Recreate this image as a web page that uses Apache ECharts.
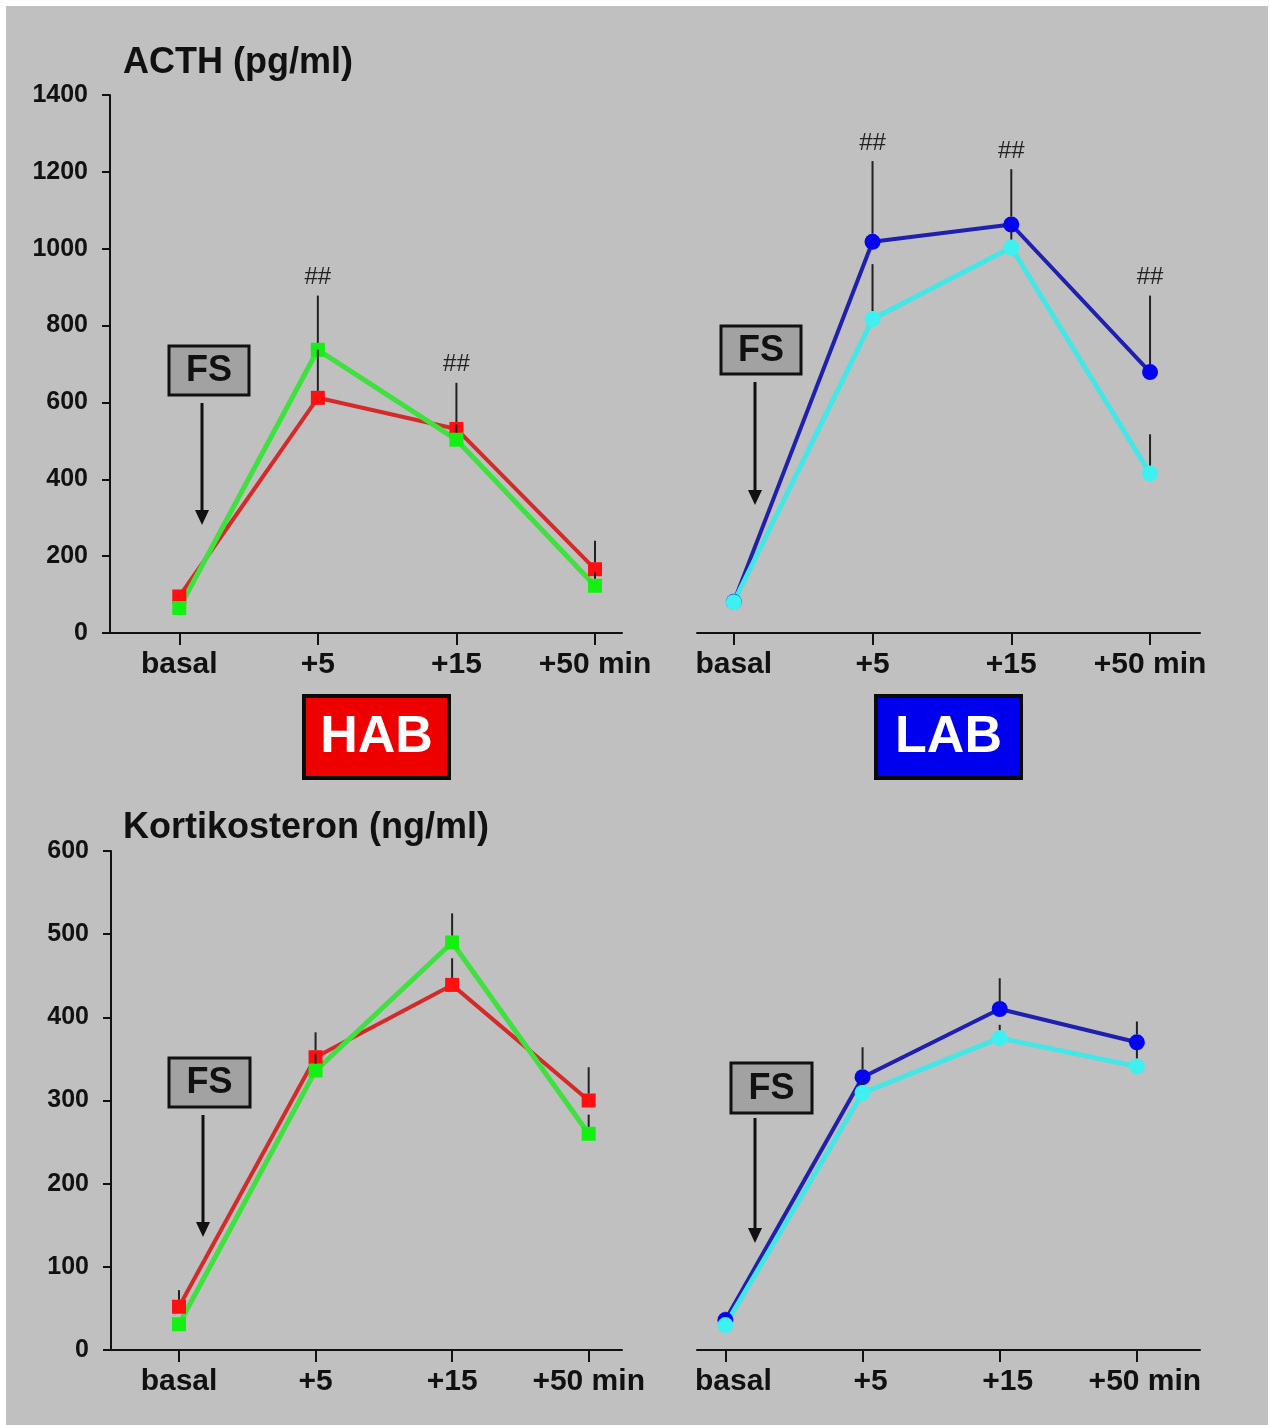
<!DOCTYPE html>
<html>
<head>
<meta charset="utf-8">
<script src="https://cdn.jsdelivr.net/npm/echarts@6/dist/echarts.min.js"></script>
<style>
  html, body { margin: 0; padding: 0; background: #ffffff; }
  #chart { width: 1270px; height: 1425px; }
</style>
</head>
<body>
<div id="chart"></div>
<script>
// Sampling times after forced swim (FS)
const timepoints = ['basal', '+5', '+15', '+50 min'];

// Y axis tick values
const acthTicks = [0, 200, 400, 600, 800, 1000, 1200, 1400];
const cortTicks = [0, 100, 200, 300, 400, 500, 600];

// ACTH (pg/ml) — HAB: red and green groups (mean, upper SEM, significance)
const acthHabRed = [95, 612, 531, 166];
const acthHabRedErr = [12, 125, 120, 74];
const acthHabRedSig = ['', '', '##', ''];
const acthHabGreen = [65, 737, 503, 123];
const acthHabGreenErr = [10, 141, 40, 35];
const acthHabGreenSig = ['', '##', '', ''];

// ACTH (pg/ml) — LAB: blue and cyan groups
const acthLabBlue = [81, 1018, 1063, 679];
const acthLabBlueErr = [8, 210, 144, 199];
const acthLabBlueSig = ['', '##', '##', '##'];
const acthLabCyan = [80, 817, 1003, 415];
const acthLabCyanErr = [8, 143, 45, 102];
const acthLabCyanSig = ['', '', '', ''];

// Kortikosteron (ng/ml) — HAB
const cortHabRed = [52, 352, 439, 300];
const cortHabRedErr = [20, 30, 32, 40];
const cortHabGreen = [31, 336, 490, 260];
const cortHabGreenErr = [8, 20, 35, 23];

// Kortikosteron (ng/ml) — LAB
const cortLabBlue = [36, 328, 410, 370];
const cortLabBlueErr = [10, 36, 37, 25];
const cortLabCyan = [30, 309, 375, 341];
const cortLabCyanErr = [5, 15, 16, 21];

const FONT = '"Liberation Sans", Arial, sans-serif';
const INK = '#111111';

const COLORS = {
  red:   { line: '#d42a2a', mark: '#ff1010', shape: 'rect',   size: 14, width: 4 },
  green: { line: '#3fe03f', mark: '#14f014', shape: 'rect',   size: 14, width: 5 },
  blue:  { line: '#2020b0', mark: '#0404f0', shape: 'circle', size: 16, width: 4 },
  cyan:  { line: '#44e6e6', mark: '#3ef0f0', shape: 'circle', size: 16, width: 5 }
};

const grids = [
  { left: 110, top: 95,  width: 512, height: 538 },
  { left: 697, top: 95,  width: 503, height: 538 },
  { left: 111, top: 851, width: 511, height: 499 },
  { left: 697, top: 851, width: 503, height: 499 }
];
const xRanges = [[-0.5, 3.195], [-0.265, 3.36], [-0.498, 3.244], [-0.207, 3.46]];

const xAxes = grids.map((g, i) => ({
  type: 'value',
  gridIndex: i,
  min: xRanges[i][0],
  max: xRanges[i][1],
  splitLine: { show: false },
  axisLine: { show: true, onZero: false, lineStyle: { color: INK, width: 2 } },
  axisTick: { show: true, length: 12, inside: false, customValues: [0, 1, 2, 3], lineStyle: { color: INK, width: 2 } },
  axisLabel: {
    customValues: [0, 1, 2, 3],
    formatter: v => timepoints[Math.round(v)],
    color: INK,
    fontFamily: FONT,
    fontWeight: 'bold',
    fontSize: 30,
    margin: 17,
    padding: i === 3 ? [0, 0, 0, 16] : 0
  }
}));

function yAxis(i, ticks, visible) {
  return {
    type: 'value',
    gridIndex: i,
    min: ticks[0],
    max: ticks[ticks.length - 1],
    interval: ticks[1] - ticks[0],
    show: visible,
    splitLine: { show: false },
    axisLine: { show: true, onZero: false, lineStyle: { color: INK, width: 2 } },
    axisTick: { show: true, length: 8, lineStyle: { color: INK, width: 2 } },
    axisLabel: {
      formatter: v => String(v),
      color: INK, fontFamily: FONT, fontWeight: 'bold', fontSize: 25, margin: 22
    }
  };
}

const yAxes = [
  yAxis(0, acthTicks, true),
  yAxis(1, acthTicks, false),
  yAxis(2, cortTicks, true),
  yAxis(3, cortTicks, false)
];

function lineSeries(panel, values, colorKey) {
  const c = COLORS[colorKey];
  return {
    type: 'line',
    xAxisIndex: panel,
    yAxisIndex: panel,
    data: values.map((v, i) => [i, v]),
    symbol: c.shape,
    symbolSize: c.size,
    showAllSymbol: true,
    lineStyle: { color: c.line, width: c.width },
    itemStyle: { color: c.mark },
    z: 2,
    animation: false
  };
}

// Upper error bars (from the marker's top edge) with optional significance marks
function errorSeries(panel, values, errs, sig, markerSize) {
  const half = markerSize / 2;
  return {
    type: 'custom',
    xAxisIndex: panel,
    yAxisIndex: panel,
    data: values.map((v, i) => [i, v, errs[i]]),
    encode: { x: 0, y: 1 },
    z: 4,
    silent: true,
    animation: false,
    renderItem: function (params, api) {
      const x = api.value(0), y = api.value(1), e = api.value(2);
      const p0 = api.coord([x, y]);
      const p1 = api.coord([x, y + e]);
      const children = [];
      const yStart = p0[1] - half;
      if (p1[1] < yStart) {
        children.push({
          type: 'line',
          shape: { x1: p0[0], y1: yStart, x2: p1[0], y2: p1[1] },
          style: { stroke: '#222222', lineWidth: 2 }
        });
      }
      const mark = sig ? sig[params.dataIndex] : '';
      if (mark) {
        children.push({
          type: 'text',
          style: {
            x: p1[0], y: p1[1] - 18, text: mark,
            font: 'normal 24px ' + FONT, fill: '#222222',
            align: 'center', verticalAlign: 'middle'
          }
        });
      }
      return { type: 'group', children: children };
    }
  };
}

const series = [
  lineSeries(0, acthHabRed, 'red'),
  lineSeries(0, acthHabGreen, 'green'),
  errorSeries(0, acthHabRed, acthHabRedErr, acthHabRedSig, COLORS.red.size),
  errorSeries(0, acthHabGreen, acthHabGreenErr, acthHabGreenSig, COLORS.green.size),

  lineSeries(1, acthLabBlue, 'blue'),
  lineSeries(1, acthLabCyan, 'cyan'),
  errorSeries(1, acthLabBlue, acthLabBlueErr, acthLabBlueSig, COLORS.blue.size),
  errorSeries(1, acthLabCyan, acthLabCyanErr, acthLabCyanSig, COLORS.cyan.size),

  lineSeries(2, cortHabRed, 'red'),
  lineSeries(2, cortHabGreen, 'green'),
  errorSeries(2, cortHabRed, cortHabRedErr, null, COLORS.red.size),
  errorSeries(2, cortHabGreen, cortHabGreenErr, null, COLORS.green.size),

  lineSeries(3, cortLabBlue, 'blue'),
  lineSeries(3, cortLabCyan, 'cyan'),
  errorSeries(3, cortLabBlue, cortLabBlueErr, null, COLORS.blue.size),
  errorSeries(3, cortLabCyan, cortLabCyanErr, null, COLORS.cyan.size)
];

// "FS" stimulus box with a downward arrow
function fsMarker(x, y, w, h, ax, ay0, ay1) {
  return [
    { type: 'rect', shape: { x: x, y: y, width: w, height: h },
      style: { fill: '#a2a2a2', stroke: INK, lineWidth: 3 }, z: 10 },
    { type: 'text', style: { x: x + w / 2, y: y + h / 2 + 1, text: 'FS', font: 'bold 36px ' + FONT,
      fill: INK, align: 'center', verticalAlign: 'middle' }, z: 11 },
    { type: 'line', shape: { x1: ax, y1: ay0, x2: ax, y2: ay1 - 12 },
      style: { stroke: INK, lineWidth: 3 }, z: 10 },
    { type: 'polygon', shape: { points: [[ax - 7, ay1 - 15], [ax + 7, ay1 - 15], [ax, ay1]] },
      style: { fill: INK }, z: 10 }
  ];
}

function groupBox(x, y, w, h, fill, text) {
  return [
    { type: 'rect', shape: { x: x, y: y, width: w, height: h },
      style: { fill: fill, stroke: '#0a0a0a', lineWidth: 4 }, z: 10 },
    { type: 'text', style: { x: x + w / 2, y: y + h / 2 + 1, text: text, font: 'bold 52px ' + FONT,
      fill: '#ffffff', align: 'center', verticalAlign: 'middle' }, z: 11 }
  ];
}

const graphics = [
  // white frame on the top, left and right edges
  { type: 'rect', shape: { x: 0, y: 0, width: 1270, height: 6 }, style: { fill: '#ffffff' }, z: 0 },
  { type: 'rect', shape: { x: 0, y: 0, width: 6, height: 1425 }, style: { fill: '#ffffff' }, z: 0 },
  { type: 'rect', shape: { x: 1268, y: 0, width: 2, height: 1425 }, style: { fill: '#ffffff' }, z: 0 },

  { type: 'text', style: { x: 123, y: 63, text: 'ACTH (pg/ml)', font: 'bold 36px ' + FONT,
    fill: INK, verticalAlign: 'middle' }, z: 10 },
  { type: 'text', style: { x: 123, y: 828, text: 'Kortikosteron (ng/ml)', font: 'bold 36px ' + FONT,
    fill: INK, verticalAlign: 'middle' }, z: 10 },

  ...fsMarker(169, 346, 80, 49, 202, 403, 525),
  ...fsMarker(721, 326, 80, 48, 755, 382, 505),
  ...fsMarker(169, 1058, 81, 49, 203, 1115, 1237),
  ...fsMarker(731, 1063, 81, 50, 755, 1118, 1243),

  ...groupBox(304, 696, 145, 82, '#ee0000', 'HAB'),
  ...groupBox(876, 696, 145, 82, '#0000ee', 'LAB')
];

const chart = echarts.init(document.getElementById('chart'), null, { renderer: 'canvas' });
chart.setOption({
  backgroundColor: '#c0c0c0',
  animation: false,
  grid: grids,
  xAxis: xAxes,
  yAxis: yAxes,
  series: series,
  graphic: graphics
});
</script>
</body>
</html>
